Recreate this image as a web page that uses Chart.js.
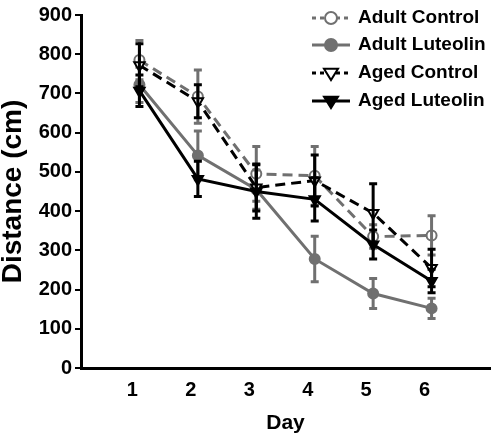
<!DOCTYPE html>
<html>
<head>
<meta charset="utf-8">
<script src="https://cdn.jsdelivr.net/npm/chart.js@4/dist/chart.umd.min.js"></script>
<style>
  html, body { margin: 0; padding: 0; background: #fff; }
  #wrap { width: 498px; height: 436px; }
</style>
</head>
<body>
<div id="wrap"><canvas id="c" width="498" height="436"></canvas></div>
<script>
// ---- data ----
const days = [1, 2, 3, 4, 5, 6];
const seriesNames = ["Adult Control", "Adult Luteolin", "Aged Control", "Aged Luteolin"];
const adultControl      = [785, 692, 495, 490, 335, 338];
const adultControlErr   = [50, 68, 70, 75, 30, 50];
const adultLuteolin     = [722, 542, 455, 278, 190, 152];
const adultLuteolinErr  = [45, 62, 50, 58, 38, 26];
const agedControl       = [772, 680, 460, 478, 395, 255];
const agedControlErr    = [55, 42, 60, 65, 75, 48];
const agedLuteolin      = [707, 482, 450, 430, 315, 222];
const agedLuteolinErr   = [40, 45, 68, 55, 37, 30];
const yTicks = [0, 100, 200, 300, 400, 500, 600, 700, 800, 900];

const GRAY = '#707070';
const BLACK = '#000000';
const FONT = "'Liberation Sans', Arial, sans-serif";

function pts(vals) { return days.map((d, i) => ({ x: d, y: vals[i] })); }

const styles = [
  { color: GRAY,  dash: [10, 6], pointStyle: 'circle',   fill: '#ffffff', radius: 5, rot: 0,   vals: adultControl,  err: adultControlErr,  order: 4 },
  { color: GRAY,  dash: [],      pointStyle: 'circle',   fill: GRAY,      radius: 5, rot: 0,   vals: adultLuteolin, err: adultLuteolinErr, order: 3 },
  { color: BLACK, dash: [10, 6], pointStyle: 'triangle', fill: '#ffffff', radius: 6, rot: 180, vals: agedControl,   err: agedControlErr,   order: 2 },
  { color: BLACK, dash: [],      pointStyle: 'triangle', fill: BLACK,     radius: 6, rot: 180, vals: agedLuteolin,  err: agedLuteolinErr,  order: 1 }
];

const datasets = styles.map((s, i) => ({
  label: seriesNames[i],
  data: pts(s.vals),
  errors: s.err,
  borderColor: s.color,
  backgroundColor: s.fill,
  borderWidth: 3,
  borderDash: s.dash,
  pointStyle: s.pointStyle,
  pointRotation: s.rot,
  pointRadius: s.radius,
  pointBorderWidth: 2,
  pointBorderColor: s.color,
  pointBackgroundColor: s.fill,
  tension: 0,
  order: s.order
}));

const errorBarPlugin = {
  id: 'errorBars',
  afterDatasetDraw(chart, args) {
    const ds = chart.data.datasets[args.index];
    const meta = args.meta;
    const ys = chart.scales.y;
    const ctx = chart.ctx;
    ctx.save();
    ctx.strokeStyle = ds.borderColor;
    ctx.lineWidth = 3;
    ctx.setLineDash([]);
    meta.data.forEach((pt, i) => {
      const v = ds.data[i].y, e = ds.errors[i];
      const yTop = ys.getPixelForValue(v + e);
      const yBot = ys.getPixelForValue(v - e);
      const x = pt.x;
      ctx.beginPath();
      ctx.moveTo(x, yTop); ctx.lineTo(x, yBot);
      ctx.moveTo(x - 4, yTop); ctx.lineTo(x + 4, yTop);
      ctx.moveTo(x - 4, yBot); ctx.lineTo(x + 4, yBot);
      ctx.stroke();
    });
    ctx.restore();
  }
};

const legendPlugin = {
  id: 'customLegend',
  afterDraw(chart) {
    const ctx = chart.ctx;
    const rowsY = [18, 45, 73, 101];
    const x0 = 312, x1 = 350, xm = 331, xt = 358;
    styles.forEach((s, i) => {
      const y = rowsY[i];
      ctx.save();
      ctx.strokeStyle = s.color;
      ctx.lineWidth = 3;
      ctx.setLineDash(s.dash.length ? [4, 4] : []);
      ctx.beginPath();
      ctx.moveTo(x0, y); ctx.lineTo(x1, y);
      ctx.stroke();
      ctx.setLineDash([]);
      // marker
      ctx.fillStyle = s.fill;
      ctx.lineWidth = 2;
      ctx.beginPath();
      if (s.pointStyle === 'circle') {
        ctx.arc(xm, y, 6, 0, Math.PI * 2);
      } else {
        const r = 7;
        ctx.moveTo(xm - r, y - r * 0.6);
        ctx.lineTo(xm + r, y - r * 0.6);
        ctx.lineTo(xm, y + r * 1.0);
        ctx.closePath();
      }
      ctx.fill();
      ctx.stroke();
      ctx.fillStyle = '#000';
      ctx.font = "bold 19px " + FONT;
      ctx.textBaseline = 'middle';
      ctx.textAlign = 'left';
      ctx.fillText(seriesNames[i], xt, y);
      ctx.restore();
    });
  }
};

new Chart(document.getElementById('c'), {
  type: 'line',
  data: { datasets },
  plugins: [errorBarPlugin, legendPlugin],
  options: {
    responsive: false,
    animation: false,
    devicePixelRatio: 1,
    layout: { padding: { top: 12, right: 1, left: 0, bottom: 0 } },
    plugins: { legend: { display: false }, tooltip: { enabled: false } },
    scales: {
      x: {
        type: 'linear',
        min: 0, max: 7,
        afterBuildTicks(scale) { scale.ticks = days.map(d => ({ value: d })); },
        afterFit(scale) { scale.height = 68; },
        grid: { display: false, drawTicks: false },
        border: { display: true, color: BLACK, width: 3 },
        ticks: { color: BLACK, font: { family: FONT, size: 20, weight: 'bold' }, padding: 10, labelOffset: -7, maxRotation: 0 },
        title: { display: true, text: 'Day', color: BLACK, font: { family: FONT, size: 21, weight: 'bold', lineHeight: 1.2 }, padding: { top: 0, bottom: 0 } }
      },
      y: {
        min: 0, max: 900,
        afterBuildTicks(scale) { scale.ticks = yTicks.map(v => ({ value: v })); },
        afterFit(scale) { scale.width = 81; },
        grid: { display: true, drawOnChartArea: false, drawTicks: true, tickLength: 6, lineWidth: 2, color: BLACK },
        border: { display: true, color: BLACK, width: 3 },
        ticks: { color: BLACK, font: { family: FONT, size: 20, weight: 'bold' }, padding: 3 },
        title: { display: true, text: 'Distance (cm)', color: BLACK, font: { family: FONT, size: 28, weight: 'bold', lineHeight: 1.0 }, padding: { top: -1, bottom: 0 } }
      }
    }
  }
});
</script>
</body>
</html>
